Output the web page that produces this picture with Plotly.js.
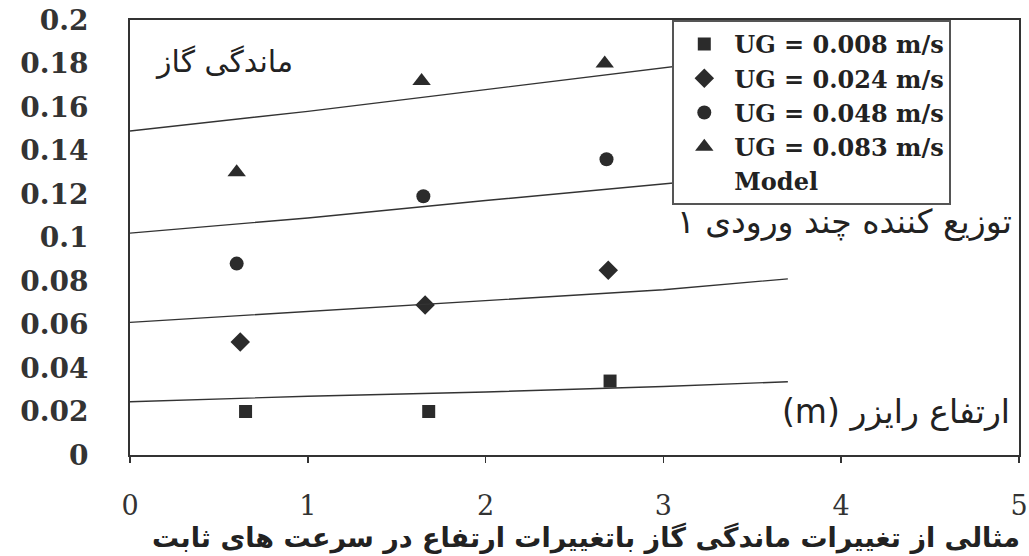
<!DOCTYPE html>
<html>
<head>
<meta charset="utf-8">
<script src="https://cdn.plot.ly/plotly-3.0.1.min.js"></script>
<style>
  html, body { margin: 0; padding: 0; background: #fff; }
  #chart { width: 1029px; height: 556px; }
</style>
</head>
<body>
<div id="chart"></div>
<script>
// Measured gas holdup at three riser heights (m), one series per superficial gas velocity
const seriesNames = ['UG = 0.008 m/s', 'UG = 0.024 m/s', 'UG = 0.048 m/s', 'UG = 0.083 m/s'];
const seriesSymbols = ['square', 'diamond', 'circle', 'triangle-up'];

const heightUG008 = [0.65, 1.68, 2.70];
const holdupUG008 = [0.020, 0.020, 0.034];

const heightUG024 = [0.62, 1.66, 2.69];
const holdupUG024 = [0.052, 0.069, 0.085];

const heightUG048 = [0.60, 1.65, 2.68];
const holdupUG048 = [0.088, 0.119, 0.136];

const heightUG083 = [0.60, 1.64, 2.67];
const holdupUG083 = [0.130, 0.172, 0.180];

// Model curves for the same four velocities
const modelHeight = [0, 1, 2, 3, 3.7];
const modelUG008 = [0.0245, 0.0270, 0.0290, 0.0315, 0.0337];
const modelUG024 = [0.061, 0.066, 0.071, 0.076, 0.081];
const modelUG048 = [0.102, 0.109, 0.117, 0.1245, 0.130];
const modelUG083 = [0.149, 0.158, 0.168, 0.178, 0.185];

const xTicks = [0, 1, 2, 3, 4, 5];
const yTicks = [0, 0.02, 0.04, 0.06, 0.08, 0.1, 0.12, 0.14, 0.16, 0.18, 0.2];
const yTickText = ['0', '0.02', '0.04', '0.06', '0.08', '0.1', '0.12', '0.14', '0.16', '0.18', '0.2'];

const labelGasHoldup = 'ماندگی گاز';
const labelDistributor = 'توزیع کننده چند ورودی ۱';
const labelRiserHeight = '(m) ارتفاع رایزر';
const captionText = 'مثالی از تغییرات ماندگی گاز باتغییرات ارتفاع در سرعت های ثابت';

const ink = '#2b2b2b';
const measured = [
  [heightUG008, holdupUG008],
  [heightUG024, holdupUG024],
  [heightUG048, holdupUG048],
  [heightUG083, holdupUG083]
];
const markerSizes = [13, 15, 14, 16];

const traces = [];
measured.forEach(function (pair, i) {
  traces.push({
    type: 'scatter', mode: 'markers', name: seriesNames[i],
    x: pair[0], y: pair[1],
    marker: { symbol: seriesSymbols[i], size: markerSizes[i], color: ink, line: { width: 0 } }
  });
});
[modelUG008, modelUG024, modelUG048, modelUG083].forEach(function (vals) {
  traces.push({
    type: 'scatter', mode: 'lines', x: modelHeight, y: vals,
    line: { color: '#333', width: 1.4 }, showlegend: false, hoverinfo: 'skip'
  });
});
// Legend row for the model curves (text only)
traces.push({
  type: 'scatter', mode: 'lines', name: 'Model', x: [null], y: [null],
  line: { color: 'rgba(0,0,0,0)', width: 0 }, showlegend: true
});

const persian = 'DejaVu Sans, sans-serif';

const layout = {
  width: 1029, height: 556,
  margin: { l: 130, r: 10, t: 20, b: 101 },
  paper_bgcolor: '#fff', plot_bgcolor: '#fff',
  showlegend: true,
  legend: {
    x: 0.61, y: 1.0, xanchor: 'left', yanchor: 'top',
    bgcolor: '#fff', bordercolor: '#555', borderwidth: 2,
    itemwidth: 50, entrywidth: 332, entrywidthmode: 'pixels',
    font: { family: 'DejaVu Serif, serif', size: 24, color: '#222', weight: 'bold' },
    tracegroupgap: 0
  },
  xaxis: {
    range: [0, 5], tickvals: xTicks, ticktext: xTicks.map(String),
    showgrid: false, zeroline: false,
    showline: true, linecolor: '#333', linewidth: 2, mirror: true,
    ticks: 'outside', ticklen: 6, tickwidth: 1.5, tickcolor: '#333',
    ticklabelstandoff: 20,
    tickfont: { family: 'DejaVu Serif, serif', size: 27, color: '#333' }
  },
  // labelled y axis: long transparent ticks push the labels away from the frame
  yaxis: {
    range: [0, 0.2], tickvals: yTicks, ticktext: yTickText,
    showgrid: false, zeroline: false,
    showline: true, linecolor: '#333', linewidth: 2, mirror: true,
    ticks: 'outside', ticklen: 34, tickwidth: 1, tickcolor: 'rgba(0,0,0,0)',
    tickfont: { family: 'DejaVu Serif, serif', size: 28, color: '#333', weight: 'bold' }
  },
  // short visible tick marks on the same scale
  yaxis2: {
    overlaying: 'y', side: 'left', anchor: 'x',
    range: [0, 0.2], tickvals: yTicks, showticklabels: false,
    showgrid: false, zeroline: false, showline: false,
    ticks: 'outside', ticklen: 13, tickwidth: 1.5, tickcolor: '#333'
  },
  annotations: [
    { text: labelGasHoldup, xref: 'x', yref: 'y', x: 0.53, y: 0.181, showarrow: false,
      font: { family: persian, size: 30, color: '#222' } },
    { text: labelDistributor, xref: 'x', yref: 'y', x: 4.97, y: 0.1075, xanchor: 'right', showarrow: false,
      font: { family: persian, size: 33, color: '#222' } },
    { text: labelRiserHeight, xref: 'x', yref: 'y', x: 4.96, y: 0.0198, xanchor: 'right', showarrow: false,
      font: { family: persian, size: 33, color: '#222' } },
    { text: captionText, xref: 'paper', yref: 'paper', x: 1.003, y: -0.19, xanchor: 'right', yanchor: 'middle',
      showarrow: false,
      font: { family: persian, size: 27, color: '#222', weight: 'bold' } }
  ]
};

Plotly.newPlot('chart', traces, layout, { displayModeBar: false, staticPlot: true });
</script>
</body>
</html>
